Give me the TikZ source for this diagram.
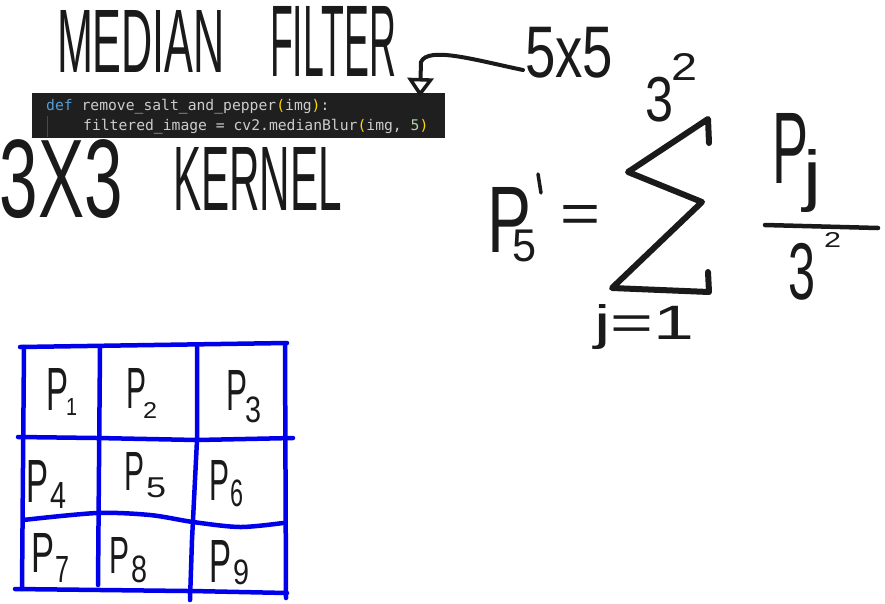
\documentclass[tikz,border=0pt]{standalone}
\usepackage{fontspec}
\setmainfont{Liberation Sans}
\setmonofont{DejaVu Sans Mono}
\usepackage{graphicx}
\usetikzlibrary{arrows.meta,calc}
\definecolor{ink}{HTML}{1A1A1A}
\definecolor{gridblue}{RGB}{0,0,235}
\definecolor{codebg}{HTML}{1F1F1F}
\definecolor{codefg}{HTML}{CCCCCC}
\definecolor{kw}{HTML}{569CD6}
\definecolor{par}{HTML}{FFD700}
\definecolor{num}{HTML}{B5CEA8}
\definecolor{guide}{HTML}{4A4A4A}
\newcommand\hwbox[3]{\resizebox*{#1pt}{#2pt}{#3}}
\tikzset{
  hw/.style={anchor=north west, inner sep=0pt, outer sep=0pt, text=ink},
  gridline/.style={draw=gridblue, line width=4.5pt, line cap=round, line join=round},
  sigmastroke/.style={draw=ink, line width=6pt, line cap=round, line join=round},
  inkstroke/.style={draw=ink, line width=4pt, line cap=round, line join=round},
  codeline/.style={anchor=base west, inner sep=0pt, text=codefg, font=\ttfamily\fontsize{14.7}{15}\selectfont},
}
\begin{document}
\begin{tikzpicture}[x=1pt,y=-1pt]
\useasboundingbox (0,0) rectangle (885,603);
\fill[white] (0,0) rectangle (885,603);

% titles
\node[hw] (median) at (57,10) {\hwbox{168}{62}{MEDIAN}};
\node[hw] (filter) at (270,6) {\hwbox{126}{70}{FILTER}};
\node[hw] (five) at (525,27) {\hwbox{88}{51}{5x5}};
\node[hw] (three) at (0,140) {\hwbox{123}{79}{3X3}};
\node[hw] (kernel) at (173,147) {\hwbox{169}{63}{KERNEL}};

% code block
\node[anchor=north west, fill=codebg, minimum width=413pt, minimum height=45pt, inner sep=0pt] (code) at (32,93) {};
\draw[guide, line width=1pt] (47,116) -- (47,137);
\node[codeline] (line1) at (46,110) {\textcolor{kw}{def} remove\_salt\_and\_pepper\textcolor{par}{(}img\textcolor{par}{)}:};
\node[codeline] (line2) at (83,130) {filtered\_image = cv2.medianBlur\textcolor{par}{(}img, \textcolor{num}{5}\textcolor{par}{)}};

% arrow from 5x5 to the code
\coordinate (tipend) at (420,97);
\draw[inkstroke, -{Triangle[open, length=19pt, width=26pt, line width=3.5pt]}]
  ($(five.south west)+(-2,-8)$) .. controls (475,60) and (428,46) .. (421,62) -- (tipend);

% equation
\node[hw] (pfive) at (487,187) {\hwbox{44}{65}{P}};
\node[hw] (pfivesub) at (512,230) {\hwbox{24}{32}{5}};
\draw[inkstroke, line width=3.5pt] (538,174) -- (541,193);
\node[hw] (eq) at (560,205) {\hwbox{40}{27}{=}};
\draw[sigmastroke] (709,143) -- (708,119) -- (628,172) -- (702,202) -- (612,288) -- (709,292) -- (708,272);
\node[hw] (topthree) at (645,77) {\hwbox{28}{45}{3}};
\node[hw] (toptwo) at (671,53) {\hwbox{26}{27}{2}};
\node[hw] (jeq) at (594,305) {\hwbox{100}{45}{j=1}};
\node[hw] (pj) at (772,113) {\hwbox{36}{70}{P}};
\node[hw] (jj) at (803,150) {\hwbox{18}{63}{j}};
\draw[inkstroke, line width=4.5pt] (765,225) -- (878,228);
\node[hw] (botthree) at (788,243) {\hwbox{27}{57}{3}};
\node[hw] (bottwo) at (824,232) {\hwbox{17}{15}{2}};

% grid
\draw[gridline] (20,347) -- (287,343);
\draw[gridline] (24,347) -- (22,589);
\draw[gridline] (285,343) -- (286,598);
\draw[gridline] (15,589) -- (188,591) (192,591) -- (287,593);
\draw[gridline] (100,348) -- (98,585);
\draw[gridline] (197,347) -- (197,440) -- (192,540) -- (190,600);
\draw[gridline] (18,437) -- (97,438) -- (197,440) -- (293,438);
\draw[gridline] plot[smooth] coordinates {(23,520) (97,513) (150,515) (193,522) (240,527) (283,523)};

% cell labels
\node[hw] (p1) at (46,368) {\hwbox{22}{42}{P}};
\node[hw] (s1) at (66,398) {\hwbox{11}{17}{1}};
\node[hw] (p2) at (126,368) {\hwbox{20}{40}{P}};
\node[hw] (s2) at (143,402) {\hwbox{14}{16}{2}};
\node[hw] (p3) at (226,370) {\hwbox{21}{40}{P}};
\node[hw] (s3) at (245,397) {\hwbox{16}{26}{3}};
\node[hw] (p4) at (26,460) {\hwbox{22}{42}{P}};
\node[hw] (s4) at (50,482) {\hwbox{16}{26}{4}};
\node[hw] (p5) at (124,452) {\hwbox{20}{38}{P}};
\node[hw] (s5) at (146,478) {\hwbox{20}{20}{5}};
\node[hw] (p6) at (209,460) {\hwbox{20}{40}{P}};
\node[hw] (s6) at (230,480) {\hwbox{13}{27}{6}};
\node[hw] (p7) at (31,533) {\hwbox{23}{39}{P}};
\node[hw] (s7) at (55,556) {\hwbox{14}{26}{7}};
\node[hw] (p8) at (109,537) {\hwbox{20}{36}{P}};
\node[hw] (s8) at (131,556) {\hwbox{16}{27}{8}};
\node[hw] (p9) at (209,540) {\hwbox{22}{42}{P}};
\node[hw] (s9) at (233,560) {\hwbox{16}{25}{9}};
\end{tikzpicture}
\end{document}
